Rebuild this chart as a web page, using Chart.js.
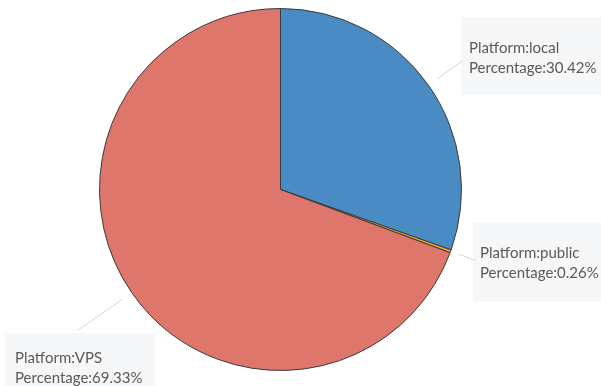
<!DOCTYPE html>
<html>
<head>
<meta charset="utf-8">
<script src="https://cdn.jsdelivr.net/npm/chart.js@4.4.1/dist/chart.umd.min.js"></script>
<style>
  html, body { margin: 0; padding: 0; background: #fff; }
  #wrap { width: 601px; height: 386px; position: relative; }
</style>
</head>
<body>
<div id="wrap"><canvas id="pie"></canvas></div>
<script>
const platforms = ['local', 'public', 'VPS'];
const percentages = [30.42, 0.26, 69.33];
const sliceColors = ['#4a8bc3', '#f0a12e', '#df766b'];

// callout placement for each slice: leader line radii beyond the rim, box rect, text origin
const callouts = [
    { r0: 11, r1: 42, box: [461, 17, 140, 78], tx: 469, ty: 48 },
    { r0: 9, r1: 26, box: [473, 223, 128, 79], tx: 480, ty: 253 },
    { r0: 12, r1: 66, box: [5, 333, 150, 53], tx: 15, ty: 358 }
];

const calloutPlugin = {
    id: 'callouts',
    afterDatasetsDraw(chart) {
        const ctx = chart.ctx;
        const arcs = chart.getDatasetMeta(0).data;
        arcs.forEach((arc, i) => {
            const c = callouts[i];
            const p = arc.getProps(['x', 'y', 'startAngle', 'endAngle', 'outerRadius'], true);
            const mid = (p.startAngle + p.endAngle) / 2;
            const cos = Math.cos(mid), sin = Math.sin(mid);
            ctx.save();
            ctx.fillStyle = '#f6f7f9';
            ctx.fillRect(c.box[0], c.box[1], c.box[2], c.box[3]);
            ctx.strokeStyle = '#d6d8dc';
            ctx.lineWidth = 1;
            ctx.beginPath();
            ctx.moveTo(p.x + cos * (p.outerRadius + c.r0), p.y + sin * (p.outerRadius + c.r0));
            ctx.lineTo(p.x + cos * (p.outerRadius + c.r1), p.y + sin * (p.outerRadius + c.r1));
            ctx.stroke();
            ctx.fillStyle = '#595959';
            ctx.font = '15px Lato, "Open Sans", sans-serif';
            ctx.textBaseline = 'middle';
            ctx.textAlign = 'left';
            ctx.fillText('Platform:' + platforms[i], c.tx, c.ty);
            ctx.fillText('Percentage:' + percentages[i].toFixed(2) + '%', c.tx, c.ty + 20);
            ctx.restore();
        });
    }
};

new Chart(document.getElementById('pie'), {
    type: 'pie',
    data: {
        labels: platforms,
        datasets: [{
            data: percentages,
            backgroundColor: sliceColors,
            borderColor: '#3a3a3a',
            borderWidth: 1
        }]
    },
    options: {
        responsive: true,
        maintainAspectRatio: false,
        animation: false,
        layout: { padding: { top: 8, bottom: 15, left: 98, right: 138 } },
        plugins: {
            legend: { display: false },
            tooltip: { enabled: false }
        }
    },
    plugins: [calloutPlugin]
});
</script>
</body>
</html>
